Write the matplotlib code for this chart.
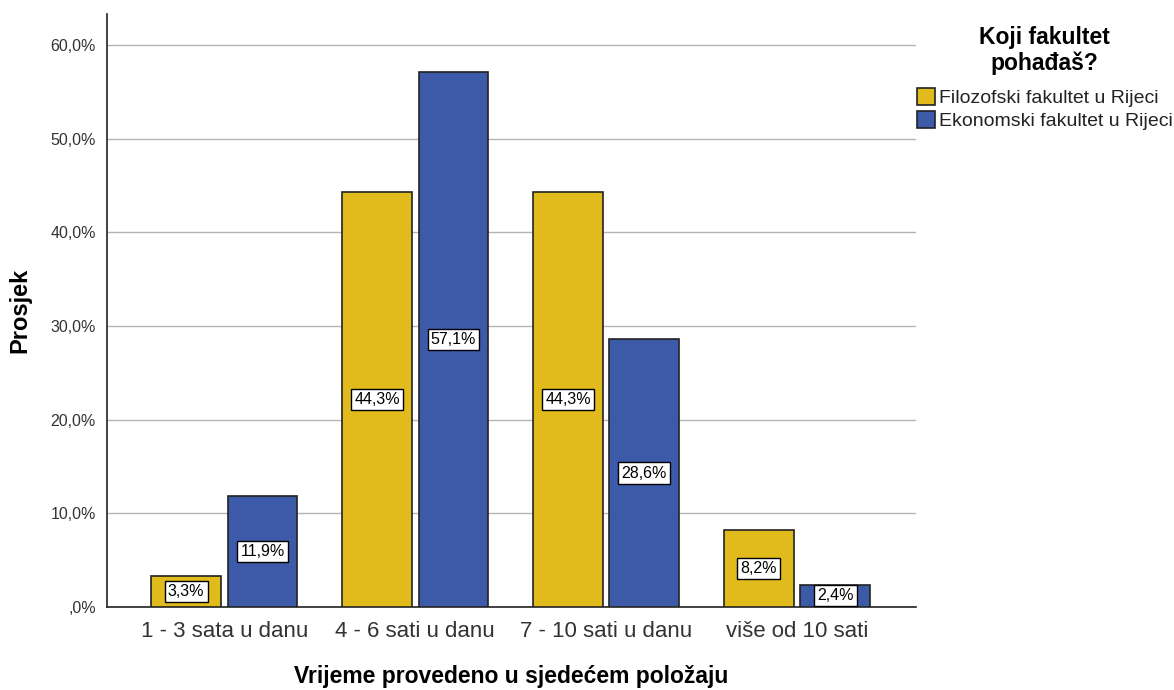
import matplotlib
matplotlib.use("Agg")
import matplotlib.pyplot as plt
from matplotlib.patches import Patch
from matplotlib.ticker import FuncFormatter
import numpy as np

plt.rcParams['font.family'] = ['Liberation Sans', 'DejaVu Sans']

categories = ['1 - 3 sata u danu', '4 - 6 sati u danu', '7 - 10 sati u danu', 'više od 10 sati']
filozofski = [3.3, 44.3, 44.3, 8.2]
ekonomski = [11.9, 57.1, 28.6, 2.4]
series_names = ['Filozofski fakultet u Rijeci', 'Ekonomski fakultet u Rijeci']
yellow = '#e1bb1c'
blue = '#3c5aa8'

fig = plt.figure(figsize=(11.74, 6.9), dpi=100)
ax = fig.add_axes([0.0911, 0.1203, 0.6891, 0.8594])

x = np.arange(len(categories))
w = 0.365
off = 0.2
b1 = ax.bar(x - off, filozofski, w, color=yellow, edgecolor='#222222', linewidth=1.2, zorder=3)
b2 = ax.bar(x + off, ekonomski, w, color=blue, edgecolor='#222222', linewidth=1.2, zorder=3)

def fmt(v):
    return f"{v:.1f}%".replace('.', ',')

for bars, vals in ((b1, filozofski), (b2, ekonomski)):
    for rect, v in zip(bars, vals):
        ax.text(rect.get_x() + rect.get_width() / 2, v / 2, fmt(v),
                ha='center', va='center', fontsize=11.5, color='black', zorder=4,
                bbox=dict(boxstyle='square,pad=0.2', facecolor='white',
                          edgecolor='black', linewidth=1.0))

ax.set_xlim(-0.615, 3.623)
ax.set_ylim(0, 63.3)
ax.set_yticks([0, 10, 20, 30, 40, 50, 60])
ax.yaxis.set_major_formatter(FuncFormatter(
    lambda v, p: ',0%' if v == 0 else f"{v:.1f}%".replace('.', ',')))
ax.set_xticks(x)
ax.set_xticklabels(categories, fontsize=16, color='#333333')
ax.tick_params(axis='y', labelsize=11.5, colors='#333333', length=0, pad=8)
ax.tick_params(axis='x', length=0, pad=10)
ax.grid(axis='y', color='#b4b4b4', linewidth=1.0, zorder=0)

for s in ('top', 'right'):
    ax.spines[s].set_visible(False)
ax.spines['left'].set_color('#222222')
ax.spines['bottom'].set_color('#222222')
ax.spines['left'].set_linewidth(1.2)
ax.spines['bottom'].set_linewidth(1.2)

ax.set_xlabel('Vrijeme provedeno u sjedećem položaju', fontsize=16.5, fontweight='bold', labelpad=17)
ax.set_ylabel('Prosjek', fontsize=17, fontweight='bold', labelpad=14)

# legend title as separate text so it can sit centered above the entries
fig.text(0.890, 0.927, 'Koji fakultet\npohađaš?', ha='center', va='center',
         multialignment='center', fontsize=16.5, fontweight='bold', linespacing=1.15)

handles = [Patch(facecolor=yellow, edgecolor='#222222', linewidth=1.2),
           Patch(facecolor=blue, edgecolor='#222222', linewidth=1.2)]
leg = fig.legend(handles, series_names, loc='upper left', bbox_to_anchor=(0.781, 0.873),
                 frameon=False, fontsize=14,
                 handlelength=0.95, handleheight=1.0, handletextpad=0.2, labelspacing=0.2,
                 borderaxespad=0, borderpad=0)
for t in leg.get_texts():
    t.set_color('#222222')

fig.savefig('out.png', dpi=100)
